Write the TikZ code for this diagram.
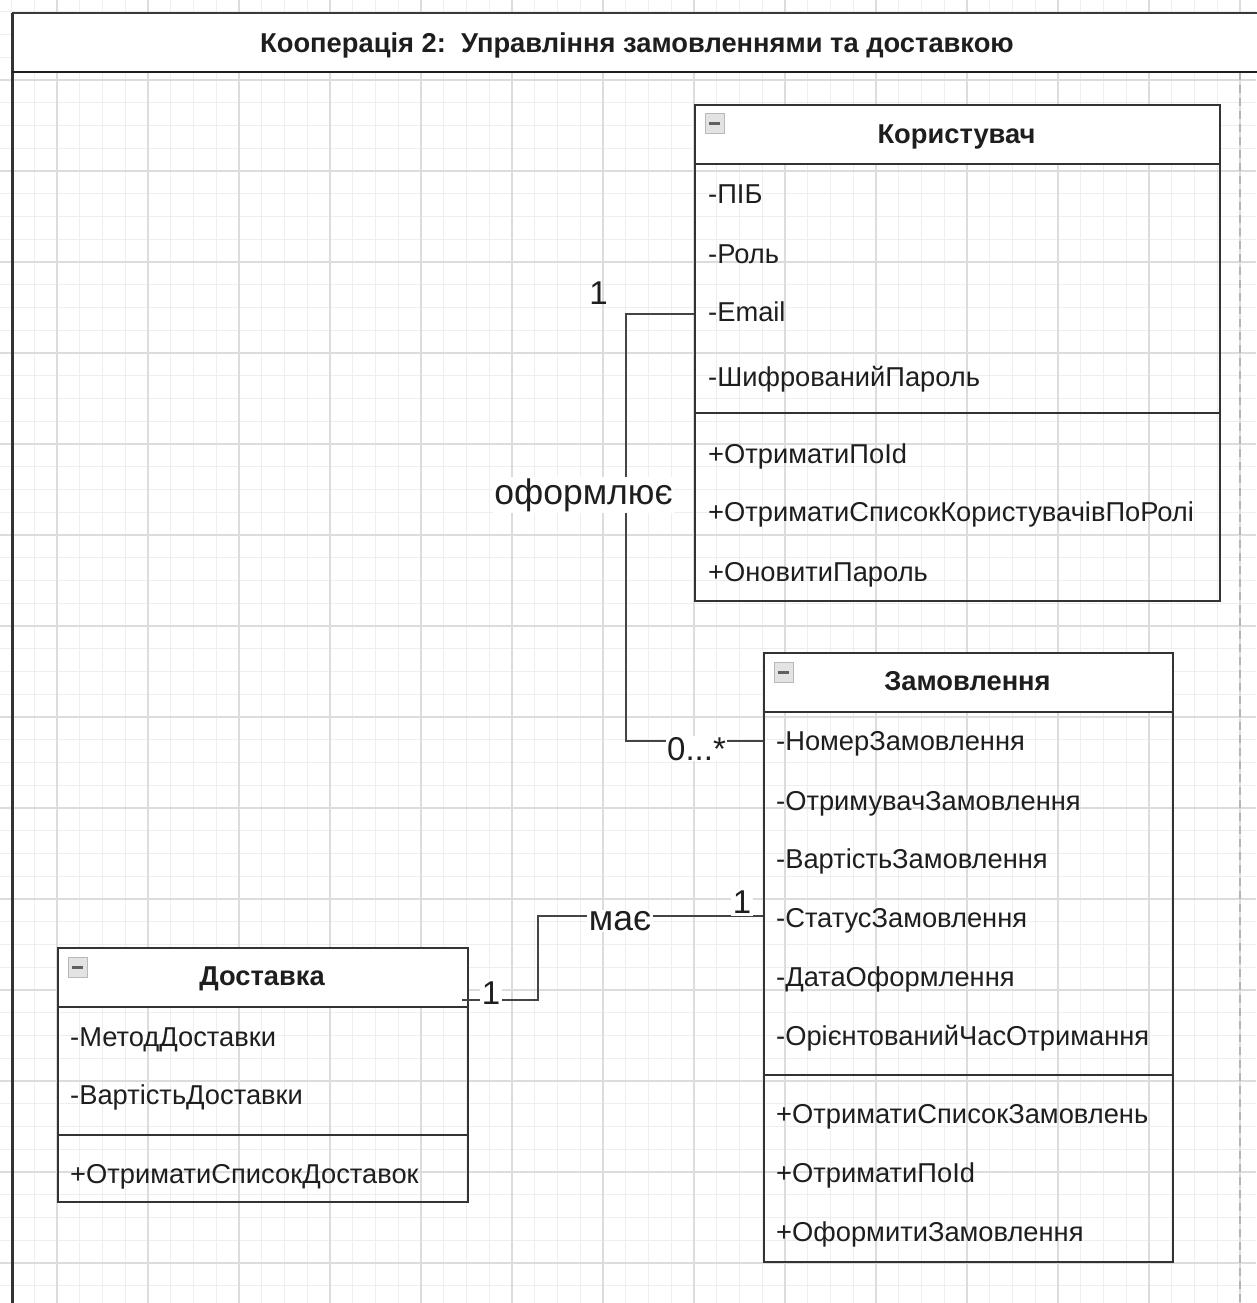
\documentclass[tikz,border=0pt]{standalone}
\usepackage{fontspec}
\setmainfont{Liberation Sans}
\usetikzlibrary{calc}

\definecolor{ink}{HTML}{1E1E1E}
\definecolor{edge}{HTML}{333333}
\definecolor{wire}{HTML}{444444}
\definecolor{gridminor}{HTML}{EEEEEE}
\definecolor{gridmajor}{HTML}{DCDCDC}
\definecolor{pagebreak}{HTML}{B4B4B4}

\begin{document}
\begin{tikzpicture}[x=1pt,y=-1pt,
  attr/.style={anchor=base west, inner sep=0pt, text=ink, font=\fontsize{27.3}{31}\selectfont},
  headtxt/.style={anchor=base, inner sep=0pt, text=ink, font=\fontsize{27.3}{31}\selectfont\bfseries},
  classbody/.style={draw=edge, line width=2.2pt, anchor=north west, inner sep=0pt},
  classhead/.style={draw=edge, line width=2.2pt, fill=white, anchor=north west, inner sep=0pt},
  divider/.style={draw=edge, line width=2.2pt},
  conn/.style={draw=wire, line width=2pt},
  lbl/.style={inner sep=1.5pt, text=ink, font=\fontsize{33}{37}\selectfont},
  lblbg/.style={lbl, fill=white},
  wordbg/.style={lblbg, font=\fontsize{35.5}{40}\selectfont},
  iconbox/.style={draw=gray!55, fill=gray!22, line width=1pt},
  icondash/.style={draw=gray!75!black, line width=3pt},
]
\useasboundingbox (0,0) rectangle (1256,1303);
\fill[white] (0,0) rectangle (1256,1303);

% background grid: minor cells of 22.75, major every fourth line
\foreach \k in {-2,...,52}
  \draw[gridminor, line width=1.2pt] ({57+22.75*\k},0) -- ({57+22.75*\k},1303);
\foreach \k in {-1,...,55}
  \draw[gridminor, line width=1.2pt] (0,{1263-22.75*\k}) -- (1256,{1263-22.75*\k});
\foreach \k in {0,...,13}
  \draw[gridmajor, line width=1.4pt] ({57+91*\k},0) -- ({57+91*\k},1303);
\foreach \k in {0,...,14}
  \draw[gridmajor, line width=1.4pt] (0,{1263-91*\k}) -- (1256,{1263-91*\k});
% page break marker
\draw[pagebreak, line width=1.6pt, dash pattern=on 8pt off 5pt] (1240,72) -- (1240,1303);

% collaboration frame with title bar
\fill[white] (12,13) rectangle (1262,72);
\draw[draw=gray!45!black, line width=2.4pt] (1262,13) -- (12,13);
\draw[draw=gray!40!black, line width=3pt] (12,13) -- (12,1310);
\draw[draw=ink, line width=2pt] (12,72) -- (1262,72);
\node[headtxt] (title) at (637,53) {Кооперація 2:\ \ Управління замовленнями та доставкою};

% ---------- class: Користувач ----------
\node[classbody, minimum width=525pt, minimum height=496pt] (usr) at (694,104) {};
\node[classhead, minimum width=525pt, minimum height=59pt] (usrH) at (694,104) {};
\draw[divider] (694,413) -- (1219,413);
\draw[iconbox] (705,114) rectangle (724,134);
\draw[icondash] (709,124) -- (720,124);
\node[headtxt] (usrT) at (956.5,143.5) {Користувач};
\node[attr] (u1) at (708,203.5) {-ПІБ};
\node[attr] (u2) at (708,263.5) {-Роль};
\node[attr] (u3) at (708,321.5) {-Email};
\node[attr] (u4) at (708,386.5) {-ШифрованийПароль};
\node[attr] (u5) at (708,463.5) {+ОтриматиПоId};
\node[attr] (u6) at (708,521.5) {+ОтриматиСписокКористувачівПоРолі};
\node[attr] (u7) at (708,581.5) {+ОновитиПароль};

% ---------- class: Замовлення ----------
\node[classbody, minimum width=409pt, minimum height=609pt] (ord) at (763,652) {};
\node[classhead, minimum width=409pt, minimum height=59pt] (ordH) at (763,652) {};
\draw[divider] (763,1075) -- (1172,1075);
\draw[iconbox] (774,662) rectangle (793,682);
\draw[icondash] (778,672) -- (789,672);
\node[headtxt] (ordT) at (967.5,690.5) {Замовлення};
\node[attr] (o1) at (776,750.5) {-НомерЗамовлення};
\node[attr] (o2) at (776,810.5) {-ОтримувачЗамовлення};
\node[attr] (o3) at (776,868.5) {-ВартістьЗамовлення};
\node[attr] (o4) at (776,927.5) {-СтатусЗамовлення};
\node[attr] (o5) at (776,986.5) {-ДатаОформлення};
\node[attr] (o6) at (776,1045.5) {-ОрієнтованийЧасОтримання};
\node[attr] (o7) at (776,1123.5) {+ОтриматиСписокЗамовлень};
\node[attr] (o8) at (776,1182.5) {+ОтриматиПоId};
\node[attr] (o9) at (776,1241.5) {+ОформитиЗамовлення};

% ---------- class: Доставка ----------
\node[classbody, minimum width=410pt, minimum height=254pt] (dlv) at (57,947) {};
\node[classhead, minimum width=410pt, minimum height=59pt] (dlvH) at (57,947) {};
\draw[divider] (57,1135) -- (467,1135);
\draw[iconbox] (68,957) rectangle (87,977);
\draw[icondash] (72,967) -- (83,967);
\node[headtxt] (dlvT) at (262,985.5) {Доставка};
\node[attr] (d1) at (70,1046.5) {-МетодДоставки};
\node[attr] (d2) at (70,1104.5) {-ВартістьДоставки};
\node[attr] (d3) at (70,1183.5) {+ОтриматиСписокДоставок};

% ---------- association: Користувач оформлює Замовлення ----------
\draw[conn] ($(usr.north west)+(0,210)$) -- ++(-68,0) |- ($(ord.north west)+(0,89)$);
\node[lbl] (m1) at (598.5,293.5) {1};
\node[wordbg] (r1) at (583.5,495) {оформлює};
\node[lblbg, anchor=base west, inner sep=1pt] (m2) at (666,760) {0...*};

% ---------- association: Доставка має Замовлення ----------
\draw[conn] ($(dlv.north east)+(-7,53)$) -- ++(76,0) |- ($(ord.north west)+(0,264)$);
\node[lblbg, inner sep=2pt] (m3) at (491,993.5) {1};
\node[wordbg] (r2) at (620,921) {має};
\node[lblbg, inner sep=2pt] (m4) at (742,902.5) {1};

\end{tikzpicture}
\end{document}
